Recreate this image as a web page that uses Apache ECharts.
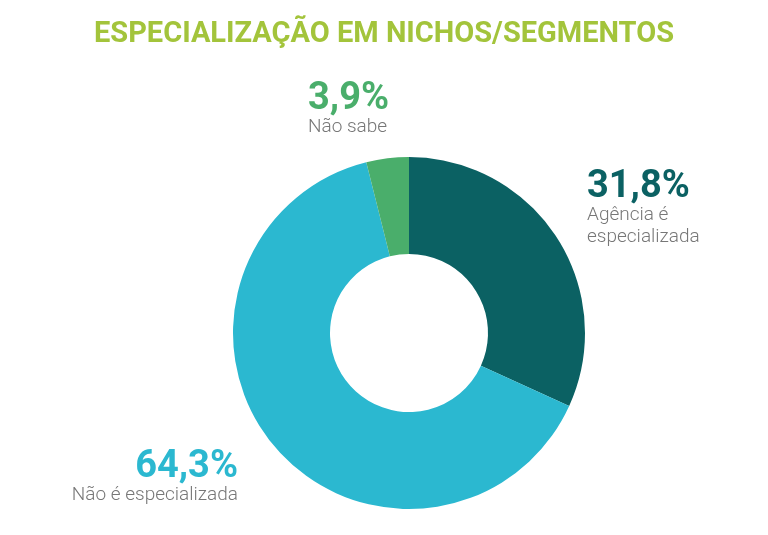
<!DOCTYPE html>
<html>
<head>
<meta charset="utf-8">
<script src="https://cdn.jsdelivr.net/npm/echarts@6/dist/echarts.min.js"></script>
<style>
  html, body { margin: 0; padding: 0; background: #fff; }
  #chart { width: 768px; height: 535px; }
</style>
</head>
<body>
<div id="chart"></div>
<script>
// dados do gráfico
const categories = ['Agência é\nespecializada', 'Não é especializada', 'Não sabe'];
const values = [31.8, 64.3, 3.9];
const colors = ['#0b6163', '#2bb8d0', '#4aae6b'];
const title = 'ESPECIALIZAÇÃO EM NICHOS/SEGMENTOS';

const fmt = v => v.toFixed(1).replace('.', ',') + '%';

const myChart = echarts.init(document.getElementById('chart'));

// rótulos posicionados à mão como no original
const labelPos = [
  {x: 587, y: 168, align: 'left'},
  {x: 238, y: 448, align: 'right'},
  {x: 308, y: 80, align: 'left'}
];

let graphics = [];
values.forEach((v, i) => {
  const p = labelPos[i];
  graphics.push({
    type: 'text', x: p.x, y: p.y,
    style: {
      text: fmt(v), align: p.align, verticalAlign: 'top',
      fill: colors[i], font: 'bold 38px Roboto'
    }
  });
  graphics.push({
    type: 'text', x: p.x, y: p.y + 36,
    style: {
      text: categories[i], align: p.align, verticalAlign: 'top',
      fill: '#777', font: '300 19px Roboto', lineHeight: 22
    }
  });
});

myChart.setOption({
  title: {
    text: title,
    left: 'center',
    top: 15,
    textStyle: {
      color: '#a3c43b',
      fontFamily: 'Liberation Sans Narrow, Roboto',
      fontWeight: 'bold',
      fontSize: 29
    }
  },
  color: colors,
  graphic: graphics,
  series: [{
    type: 'pie',
    center: [409, 333],
    radius: [79, 176],
    startAngle: 90,
    clockwise: true,
    label: {show: false},
    labelLine: {show: false},
    emphasis: {disabled: true},
    data: categories.map((c, i) => ({name: c, value: values[i]}))
  }]
});
</script>
</body>
</html>
